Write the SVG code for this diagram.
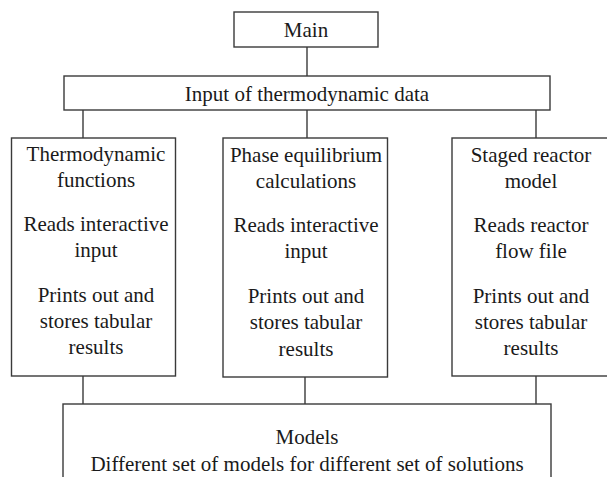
<svg xmlns="http://www.w3.org/2000/svg" width="607" height="477" viewBox="0 0 607 477">
  <style>
    .box { fill: #ffffff; stroke: #3a3a3a; stroke-width: 1.4; }
    .link { stroke: #3a3a3a; stroke-width: 1.4; fill: none; }
  </style>
  <rect width="607" height="477" fill="#ffffff"/>

  <g id="connectors">
    <line class="link" x1="307" y1="47" x2="307" y2="76"/>
    <line class="link" x1="83" y1="110" x2="83" y2="138"/>
    <line class="link" x1="307" y1="110" x2="307" y2="138"/>
    <line class="link" x1="536" y1="110" x2="536" y2="138"/>
    <line class="link" x1="83" y1="376" x2="83" y2="404"/>
    <line class="link" x1="305" y1="377" x2="305" y2="404"/>
    <line class="link" x1="536" y1="376" x2="536" y2="404"/>
  </g>

  <g font-family="'Liberation Serif', 'DejaVu Serif', serif" font-size="21" fill="#1a1a1a" text-anchor="middle">
    <g id="main">
      <rect class="box" x="234" y="12" width="144" height="35"/>
      <text x="306" y="37">Main</text>
    </g>

    <g id="input">
      <rect class="box" x="64" y="76" width="486" height="34"/>
      <text x="307" y="101">Input of thermodynamic data</text>
    </g>

    <g id="thermo">
      <rect class="box" x="11.5" y="138" width="164" height="238"/>
      <text x="96" y="161">Thermodynamic</text>
      <text x="96" y="187">functions</text>
      <text x="96" y="231">Reads interactive</text>
      <text x="96" y="257">input</text>
      <text x="96" y="302">Prints out and</text>
      <text x="96" y="328">stores tabular</text>
      <text x="96" y="354">results</text>
    </g>

    <g id="phase">
      <rect class="box" x="223" y="138" width="164.5" height="239"/>
      <text x="306" y="162">Phase equilibrium</text>
      <text x="306" y="188">calculations</text>
      <text x="306" y="232">Reads interactive</text>
      <text x="306" y="258">input</text>
      <text x="306" y="303">Prints out and</text>
      <text x="306" y="329">stores tabular</text>
      <text x="306" y="356">results</text>
    </g>

    <g id="reactor">
      <rect class="box" x="452" y="138" width="162" height="238"/>
      <text x="531" y="162">Staged reactor</text>
      <text x="531" y="188">model</text>
      <text x="531" y="232">Reads reactor</text>
      <text x="531" y="258">flow file</text>
      <text x="531" y="303">Prints out and</text>
      <text x="531" y="329">stores tabular</text>
      <text x="531" y="355">results</text>
    </g>

    <g id="models">
      <rect class="box" x="63" y="404" width="488" height="90"/>
      <text x="307" y="444">Models</text>
      <text x="307" y="471">Different set of models for different set of solutions</text>
    </g>
  </g>
</svg>
